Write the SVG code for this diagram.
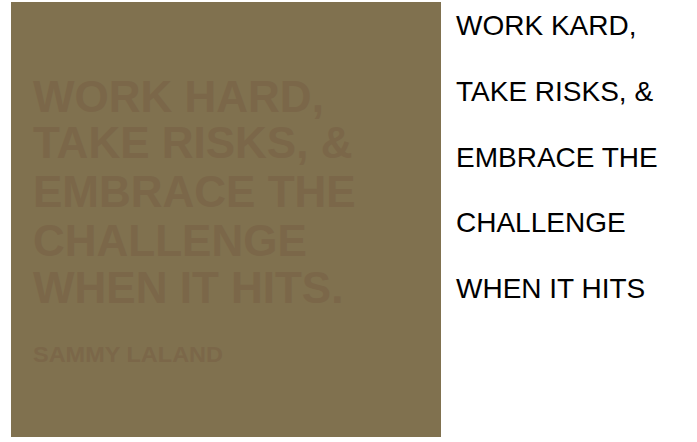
<svg xmlns="http://www.w3.org/2000/svg" width="697" height="442" viewBox="0 0 697 442">
<style>
.poster{fill:#80714f;}
.ptext{font-family:"Liberation Sans",Arial,sans-serif;font-weight:bold;font-size:44px;fill:#7b6749;}
.psmall{font-family:"Liberation Sans",Arial,sans-serif;font-weight:bold;font-size:22px;fill:#7b6749;}
.side{font-family:"Liberation Sans",Arial,sans-serif;font-size:28px;fill:#000000;}
</style>
<rect x="0" y="0" width="697" height="442" fill="#ffffff"/>
<g id="poster">
<rect class="poster" x="11" y="2" width="430" height="435"/>
<text class="ptext" x="33" y="112">WORK HARD,</text>
<text class="ptext" x="33" y="158">TAKE RISKS, &amp;</text>
<text class="ptext" x="33" y="207">EMBRACE THE</text>
<text class="ptext" x="33" y="256">CHALLENGE</text>
<text class="ptext" x="33" y="303">WHEN IT HITS.</text>
<text class="psmall" x="33" y="362" textLength="190" lengthAdjust="spacingAndGlyphs">SAMMY LALAND</text>
</g>
<g id="side-text">
<text class="side" x="456" y="35">WORK KARD,</text>
<text class="side" x="456" y="100.7">TAKE RISKS, &amp;</text>
<text class="side" x="456" y="166.5">EMBRACE THE</text>
<text class="side" x="456" y="232.2">CHALLENGE</text>
<text class="side" x="456" y="297.8">WHEN IT HITS</text>
</g>
</svg>
